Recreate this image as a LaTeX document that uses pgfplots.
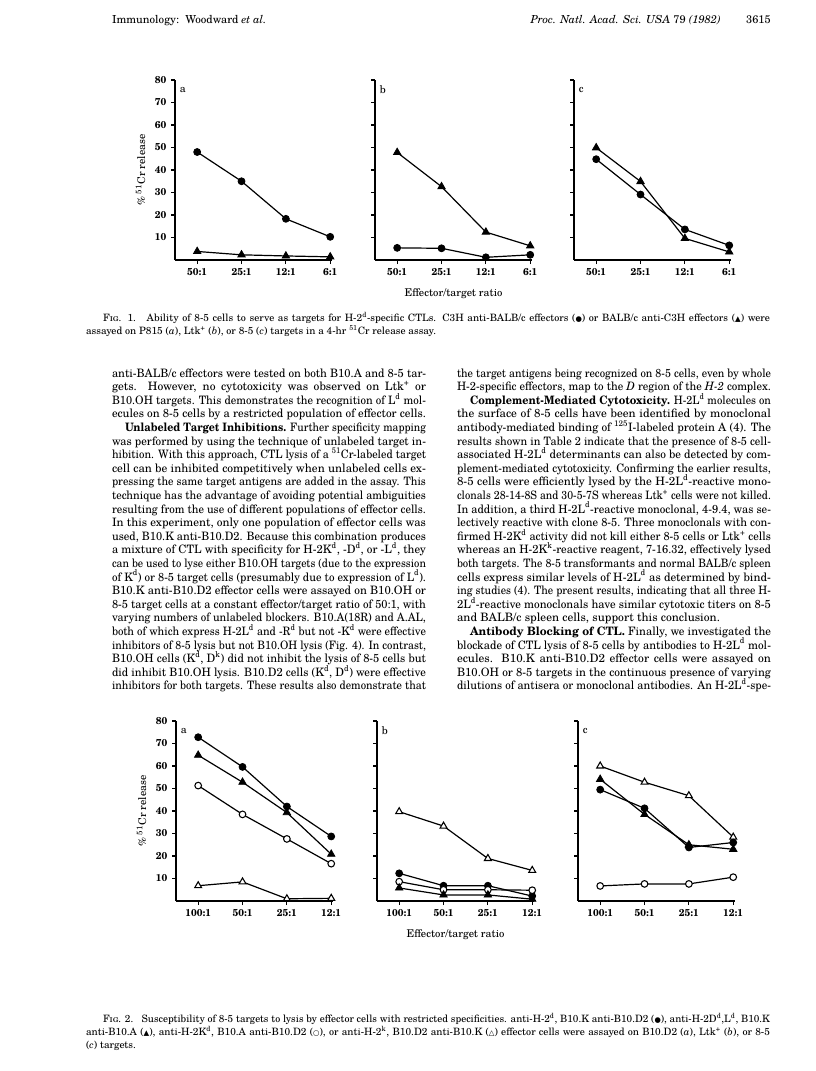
\documentclass[border=0pt]{standalone}
\usepackage{graphicx}
\usepackage{fontspec}
\setmainfont{TeX Gyre Schola}
\newfontfamily\symfont{DejaVu Sans}
\usepackage{pgfplots}
\pgfplotsset{compat=1.18}

% fonts
\newcommand\body{\fontsize{8.7}{10}\selectfont}
\newcommand\capf{\fontsize{7.6}{9}\selectfont}
\newcommand\headf{\fontsize{8.3}{10}\selectfont}
\newcommand\tickf{\bfseries\fontsize{7.5}{8}\selectfont}
\newcommand\labf{\fontsize{8}{9}\selectfont}
\newcommand\su[1]{\textsuperscript{#1}}
\newcommand\fc{{\symfont\fontsize{5.5}{5}\selectfont ●}}
\newcommand\ft{{\symfont\fontsize{5.5}{5}\selectfont ▲}}
\newcommand\oc{{\symfont\fontsize{5.5}{5}\selectfont ○}}
\newcommand\ot{{\symfont\fontsize{5.5}{5}\selectfont △}}

% justified single lines
\newlength\colw \setlength\colw{235.5pt}
\newlength\indw \setlength\indw{225.75pt}
\newcommand\fitline[2]{\sbox0{#2}\ifdim\wd0>#1\relax\resizebox{#1}{\height}{\usebox0}\else\makebox[#1][s]{#2}\fi}
\tikzset{bl/.style={anchor=base west, inner sep=0pt, outer sep=0pt}}
\newcommand\Lj[2]{\node[bl,font=\body] at (112,{377+13.6*(#1)}) {\fitline{\colw}{#2}};}
\newcommand\Li[2]{\node[bl,font=\body] at (125,{377+13.6*(#1)}) {\fitline{\indw}{#2}};}
\newcommand\Rj[2]{\node[bl,font=\body] at (457,{377+13.6*(#1)}) {\fitline{\colw}{#2}};}
\newcommand\Ri[2]{\node[bl,font=\body] at (470,{377+13.6*(#1)}) {\fitline{\indw}{#2}};}
\newcommand\Rp[2]{\node[bl,font=\body] at (457,{377+13.6*(#1)}) {#2};}

\pgfplotsset{
  panel/.style={
    scale only axis, width=117.75pt, height=135pt,
    xmin=-0.5, xmax=3.04, ymin=0, ymax=80,
    axis lines=left, axis line style={-, line width=0.9pt},
    xtick={0,1,2,3}, ytick={10,20,...,80},
    tick align=outside, major tick length=3pt,
    tick style={black, line width=0.9pt},
    ticklabel style={font=\tickf},
    /pgf/number format/assume math mode=true,
    label style={font=\labf},
    clip=false,
    every axis plot/.append style={black, line width=0.9pt, mark size=2.6pt},
  },
  noylab/.style={yticklabels={}},
  fc/.style={mark=*, mark options={fill=black, line width=0.6pt}},
  ft/.style={mark=triangle*, mark size=3.2pt, mark options={fill=black, line width=0.6pt}},
  oc/.style={mark=*, mark size=2.5pt, mark options={fill=white, line width=0.8pt}},
  ot/.style={mark=triangle*, mark size=3pt, mark options={fill=white, line width=0.8pt}},
  ylab/.style={ylabel={\% \su{51}Cr release},
    ylabel style={at={(axis description cs:-0.22,0.5)}, anchor=center}},
  xlab/.style={xlabel={Effector/target ratio},
    xlabel style={at={(axis description cs:0.5,0)}, anchor=base, yshift=-27.5pt}},
}
\newcommand\plab[1]{\node[anchor=west, font=\fontsize{8}{8}\selectfont, inner sep=0pt] at (axis description cs:0.03,0.945) {#1};}

\begin{document}
\begin{tikzpicture}
\begin{scope}[x=0.75pt, y=-0.75pt]
\useasboundingbox (0,0) rectangle (816,1071);
% running head
\node[bl, font=\headf] at (112,23) {Immunology:\ \ Woodward \textit{et al.}};
\node[anchor=base east, inner sep=0pt, font=\headf] at (721,23) {\textit{Proc. Natl. Acad. Sci. USA} 79 \textit{(1982)}};
\node[anchor=base east, inner sep=0pt, font=\headf] at (771,23) {3615};

% Fig. 1 caption
\node[bl, font=\capf] at (103,321) {\fitline{500.25pt}{\textsc{Fig}. 1.\ \ \ Ability of 8-5 cells to serve as targets for H-2\su{d}-specific CTLs. C3H anti-BALB/c effectors (\fc) or BALB/c anti-C3H effectors (\ft) were}};
\node[bl, font=\capf] at (86,334) {assayed on P815 (\textit{a}), Ltk\su{+} (\textit{b}), or 8-5 (\textit{c}) targets in a 4-hr \su{51}Cr release assay.};

% left column
\Lj{0}{anti-BALB/c effectors were tested on both B10.A and 8-5 tar-}
\Lj{1}{gets. However, no cytotoxicity was observed on Ltk\su{+} or}
\Lj{2}{B10.OH targets. This demonstrates the recognition of L\su{d} mol-}
\Lj{3}{ecules on 8-5 cells by a restricted population of effector cells.}
\Li{4}{\textbf{Unlabeled Target Inhibitions.} Further specificity mapping}
\Lj{5}{was performed by using the technique of unlabeled target in-}
\Lj{6}{hibition. With this approach, CTL lysis of a \su{51}Cr-labeled target}
\Lj{7}{cell can be inhibited competitively when unlabeled cells ex-}
\Lj{8}{pressing the same target antigens are added in the assay. This}
\Lj{9}{technique has the advantage of avoiding potential ambiguities}
\Lj{10}{resulting from the use of different populations of effector cells.}
\Lj{11}{In this experiment, only one population of effector cells was}
\Lj{12}{used, B10.K anti-B10.D2. Because this combination produces}
\Lj{13}{a mixture of CTL with specificity for H-2K\su{d}, -D\su{d}, or -L\su{d}, they}
\Lj{14}{can be used to lyse either B10.OH targets (due to the expression}
\Lj{15}{of K\su{d}) or 8-5 target cells (presumably due to expression of L\su{d}).}
\Lj{16}{B10.K anti-B10.D2 effector cells were assayed on B10.OH or}
\Lj{17}{8-5 target cells at a constant effector/target ratio of 50:1, with}
\Lj{18}{varying numbers of unlabeled blockers. B10.A(18R) and A.AL,}
\Lj{19}{both of which express H-2L\su{d} and -R\su{d} but not -K\su{d} were effective}
\Lj{20}{inhibitors of 8-5 lysis but not B10.OH lysis (Fig. 4). In contrast,}
\Lj{21}{B10.OH cells (K\su{d}, D\su{k}) did not inhibit the lysis of 8-5 cells but}
\Lj{22}{did inhibit B10.OH lysis. B10.D2 cells (K\su{d}, D\su{d}) were effective}
\Lj{23}{inhibitors for both targets. These results also demonstrate that}

% right column
\Rj{0}{the target antigens being recognized on 8-5 cells, even by whole}
\Rj{1}{H-2-specific effectors, map to the \textit{D} region of the \textit{H-2} complex.}
\Ri{2}{\textbf{Complement-Mediated Cytotoxicity.} H-2L\su{d} molecules on}
\Rj{3}{the surface of 8-5 cells have been identified by monoclonal}
\Rj{4}{antibody-mediated binding of \su{125}I-labeled protein A (4). The}
\Rj{5}{results shown in Table 2 indicate that the presence of 8-5 cell-}
\Rj{6}{associated H-2L\su{d} determinants can also be detected by com-}
\Rj{7}{plement-mediated cytotoxicity. Confirming the earlier results,}
\Rj{8}{8-5 cells were efficiently lysed by the H-2L\su{d}-reactive mono-}
\Rj{9}{clonals 28-14-8S and 30-5-7S whereas Ltk\su{+} cells were not killed.}
\Rj{10}{In addition, a third H-2L\su{d}-reactive monoclonal, 4-9.4, was se-}
\Rj{11}{lectively reactive with clone 8-5. Three monoclonals with con-}
\Rj{12}{firmed H-2K\su{d} activity did not kill either 8-5 cells or Ltk\su{+} cells}
\Rj{13}{whereas an H-2K\su{k}-reactive reagent, 7-16.32, effectively lysed}
\Rj{14}{both targets. The 8-5 transformants and normal BALB/c spleen}
\Rj{15}{cells express similar levels of H-2L\su{d} as determined by bind-}
\Rj{16}{ing studies (4). The present results, indicating that all three H-}
\Rj{17}{2L\su{d}-reactive monoclonals have similar cytotoxic titers on 8-5}
\Rp{18}{and BALB/c spleen cells, support this conclusion.}
\Ri{19}{\textbf{Antibody Blocking of CTL.} Finally, we investigated the}
\Rj{20}{blockade of CTL lysis of 8-5 cells by antibodies to H-2L\su{d} mol-}
\Rj{21}{ecules. B10.K anti-B10.D2 effector cells were assayed on}
\Rj{22}{B10.OH or 8-5 targets in the continuous presence of varying}
\Rj{23}{dilutions of antisera or monoclonal antibodies. An H-2L\su{d}-spe-}

% Fig. 2 caption
\node[bl, font=\capf] at (103,1022) {\fitline{500.25pt}{\textsc{Fig}. 2.\ \ \ Susceptibility of 8-5 targets to lysis by effector cells with restricted specificities. anti-H-2\su{d}, B10.K anti-B10.D2 (\fc), anti-H-2D\su{d},L\su{d}, B10.K}};
\node[bl, font=\capf] at (86,1035) {\fitline{513pt}{anti-B10.A (\ft), anti-H-2K\su{d}, B10.A anti-B10.D2 (\oc), or anti-H-2\su{k}, B10.D2 anti-B10.K (\ot) effector cells were assayed on B10.D2 (\textit{a}), Ltk\su{+} (\textit{b}), or 8-5}};
\node[bl, font=\capf] at (86,1048) {(\textit{c}) targets.};
\end{scope}

% ---------- Fig. 1 ----------
\begin{axis}[panel, ylab, at={(131.25pt,-195pt)}, anchor=south west,
  xticklabels={50:1,25:1,12:1,6:1}]
\plab{a}
\addplot[fc] coordinates {(0,48) (1,35) (2,18.3) (3,10.3)};
\addplot[ft] coordinates {(0,3.8) (1,2.3) (2,1.8) (3,1.4)};
\end{axis}

\begin{axis}[panel, noylab, xlab, at={(281.25pt,-195pt)}, anchor=south west,
  xticklabels={50:1,25:1,12:1,6:1}]
\plab{b}
\addplot[ft] coordinates {(0,47.8) (1,32.6) (2,12.4) (3,6.3)};
\addplot[fc] coordinates {(0,5.4) (1,5.2) (2,1.2) (3,2.3)};
\end{axis}

\begin{axis}[panel, noylab, at={(430.5pt,-195pt)}, anchor=south west,
  xticklabels={50:1,25:1,12:1,6:1}]
\plab{c}
\addplot[ft] coordinates {(0,49.9) (1,34.9) (2,9.6) (3,3.6)};
\addplot[fc] coordinates {(0,44.8) (1,29.1) (2,13.6) (3,6.5)};
\end{axis}

% ---------- Fig. 2 ----------
\begin{axis}[panel, ylab, at={(132pt,-675.75pt)}, anchor=south west,
  xticklabels={100:1,50:1,25:1,12:1}]
\plab{a}
\addplot[fc] coordinates {(0,72.8) (1,59.6) (2,42) (3,28.7)};
\addplot[ft] coordinates {(0,64.8) (1,52.8) (2,39.3) (3,20.8)};
\addplot[oc] coordinates {(0,51.3) (1,38.5) (2,27.6) (3,16.6)};
\addplot[ot] coordinates {(0,6.8) (1,8.5) (2,1) (3,1.2)};
\end{axis}

\begin{axis}[panel, noylab, xlab, at={(282.75pt,-675.75pt)}, anchor=south west,
  xticklabels={100:1,50:1,25:1,12:1}]
\plab{b}
\addplot[ot] coordinates {(0,39.7) (1,33.3) (2,18.9) (3,13.6)};
\addplot[fc] coordinates {(0,12.3) (1,6.8) (2,6.8) (3,2.2)};
\addplot[oc] coordinates {(0,8.6) (1,5) (2,5) (3,4.8)};
\addplot[ft] coordinates {(0,5.8) (1,2.7) (2,2.7) (3,0.8)};
\end{axis}

\begin{axis}[panel, noylab, at={(433.5pt,-675.75pt)}, anchor=south west,
  xticklabels={100:1,50:1,25:1,12:1}]
\plab{c}
\addplot[ot] coordinates {(0,60) (1,52.8) (2,46.8) (3,28.4)};
\addplot[ft] coordinates {(0,54.1) (1,38.5) (2,25) (3,23)};
\addplot[fc] coordinates {(0,49.5) (1,41.2) (2,23.8) (3,26)};
\addplot[oc] coordinates {(0,6.7) (1,7.6) (2,7.6) (3,10.6)};
\end{axis}
\end{tikzpicture}
\end{document}
